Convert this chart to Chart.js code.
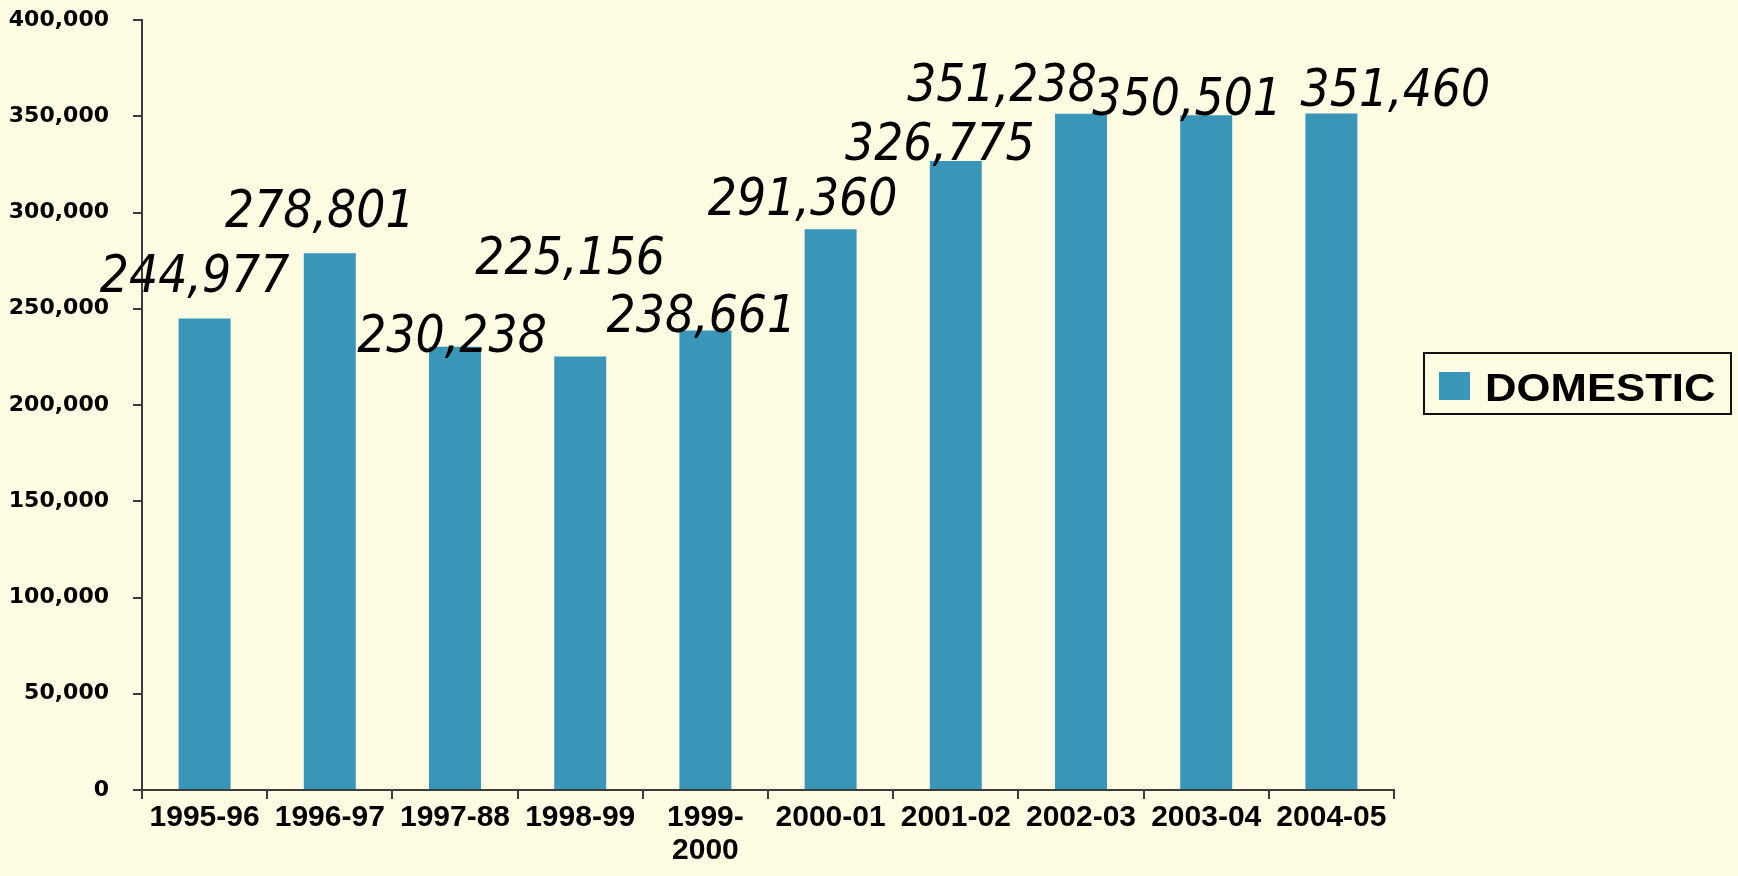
<!DOCTYPE html>
<html>
<head>
<meta charset="utf-8">
<script src="https://cdn.jsdelivr.net/npm/chart.js@4.4.1/dist/chart.umd.min.js"></script>
<style>
  html, body { margin: 0; padding: 0; background: #fefce3; }
  canvas { display: block; }
</style>
</head>
<body>
<canvas id="chart" width="1738" height="876"></canvas>
<script>
// data
const years = ['1995-96', '1996-97', '1997-88', '1998-99', ['1999-', '2000'], '2000-01', '2001-02', '2002-03', '2003-04', '2004-05'];
const domestic = [244977, 278801, 230238, 225156, 238661, 291360, 326775, 351238, 350501, 351460];
const seriesName = 'DOMESTIC';

// where each value label sits, relative to the top centre of its bar (px)
const labelShift = [[-10, -44], [-10, -44], [-3, -13], [-10, -101], [-4, -17], [-28, -32], [-16, -19], [-79, -31], [-19, -18], [64, -25]];

const barColor = '#3a96b8';
const axisColor = '#3c3c3c';
const fmt = v => v.toLocaleString('en-US');

const background = {
  id: 'background',
  beforeDraw(chart) {
    const ctx = chart.ctx;
    ctx.save();
    ctx.fillStyle = '#fefce3';
    ctx.fillRect(0, 0, chart.width, chart.height);
    ctx.restore();
  }
};

const valueLabels = {
  id: 'valueLabels',
  afterDatasetsDraw(chart) {
    const ctx = chart.ctx;
    const meta = chart.getDatasetMeta(0);
    ctx.save();
    ctx.font = 'italic 51px "DejaVu Sans Condensed", "DejaVu Sans", sans-serif';
    ctx.fillStyle = '#000';
    ctx.textAlign = 'center';
    ctx.textBaseline = 'alphabetic';
    meta.data.forEach((bar, i) => {
      const [dx, dy] = labelShift[i];
      ctx.fillText(fmt(domestic[i]), bar.x + dx, bar.y + dy + 18);
    });
    ctx.restore();
  }
};

const boxLegend = {
  id: 'boxLegend',
  afterDraw(chart) {
    const ctx = chart.ctx;
    const area = chart.chartArea;
    const x = area.right + 30, y = 353, w = 307, h = 61;
    ctx.save();
    ctx.strokeStyle = '#111';
    ctx.lineWidth = 2;
    ctx.strokeRect(x, y, w, h);
    ctx.fillStyle = chart.data.datasets[0].backgroundColor;
    ctx.fillRect(x + 15, y + 19, 31, 28);
    ctx.fillStyle = '#000';
    ctx.font = 'bold 39px "Liberation Sans", Arial, sans-serif';
    ctx.textBaseline = 'alphabetic';
    ctx.translate(x + 61, y + 48);
    ctx.scale(1.12, 1);
    ctx.fillText(chart.data.datasets[0].label, 0, 0);
    ctx.restore();
  }
};

new Chart(document.getElementById('chart'), {
  type: 'bar',
  data: {
    labels: years,
    datasets: [{
      label: seriesName,
      data: domestic,
      backgroundColor: barColor,
      categoryPercentage: 1,
      barPercentage: 0.415
    }]
  },
  options: {
    responsive: false,
    animation: false,
    layout: { padding: { top: 20, right: 344, left: 0, bottom: 0 } },
    plugins: {
      legend: { display: false },
      tooltip: { enabled: false }
    },
    scales: {
      x: {
        afterFit(scale) { scale.height = 86; },
        border: { display: true, color: axisColor, width: 2 },
        grid: { drawOnChartArea: false, drawTicks: true, tickLength: 9, color: axisColor, lineWidth: 2, offset: true },
        ticks: {
          color: '#000',
          padding: 3,
          maxRotation: 0,
          autoSkip: false,
          font: { family: '"Liberation Sans", Arial, sans-serif', size: 30, weight: 'bold', lineHeight: 1.08 }
        }
      },
      y: {
        min: 0,
        max: 400000,
        afterFit(scale) {
          scale.width = 142;
          scale.paddingTop = 0;
          scale.paddingBottom = 0;
        },
        border: { display: true, color: axisColor, width: 2 },
        grid: { drawOnChartArea: false, drawTicks: true, tickLength: 9, color: axisColor, lineWidth: 2 },
        ticks: {
          stepSize: 50000,
          color: '#000',
          padding: 24,
          callback: v => fmt(v),
          font: { family: '"DejaVu Sans", sans-serif', size: 22, weight: 'bold' }
        }
      }
    }
  },
  plugins: [background, valueLabels, boxLegend]
});
</script>
</body>
</html>
